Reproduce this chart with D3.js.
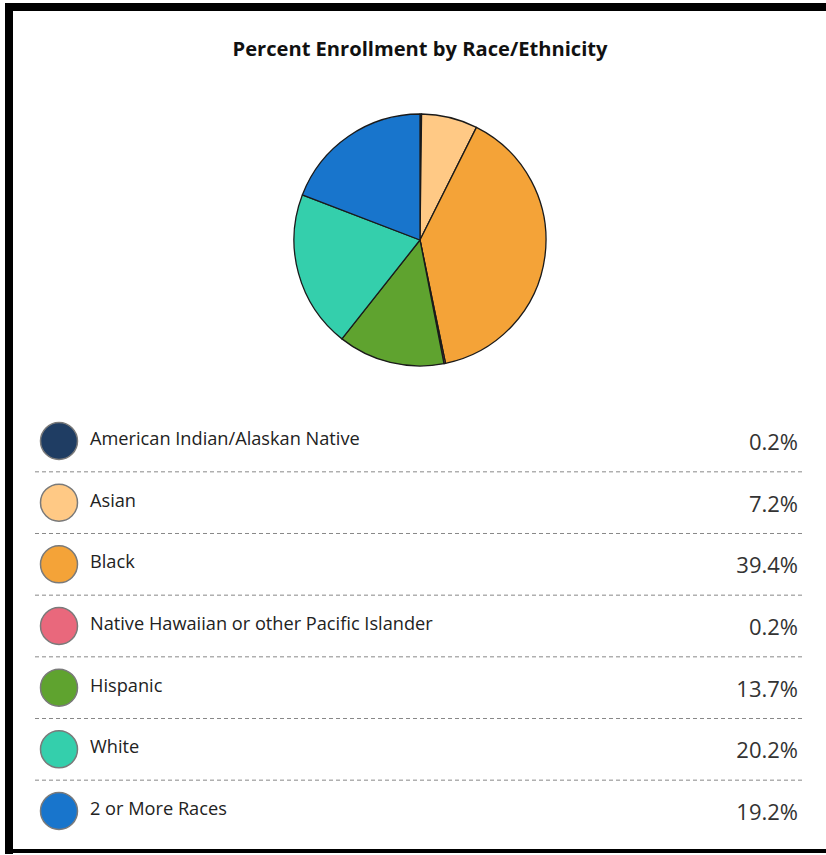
<!DOCTYPE html>
<html><head><meta charset="utf-8">
<script src="https://cdn.jsdelivr.net/npm/d3@7/dist/d3.min.js"></script>
<style>html,body{margin:0;padding:0;background:#fff;}svg{display:block;}</style>
</head><body>
<svg id="chart" width="826" height="855"></svg>
<script>
const categories = ["American Indian/Alaskan Native","Asian","Black","Native Hawaiian or other Pacific Islander","Hispanic","White","2 or More Races"];
const values = [0.2, 7.2, 39.4, 0.2, 13.7, 20.2, 19.2];
const valueLabels = ["0.2%","7.2%","39.4%","0.2%","13.7%","20.2%","19.2%"];
const colors = ["#1f3d63","#ffc985","#f4a338","#e9687c","#5fa32f","#34cfac","#1875cc"];
const title = "Percent Enrollment by Race/Ethnicity";

const svg = d3.select("#chart");
const data = categories.map((c,i)=>({cat:c, value:values[i], label:valueLabels[i], color:colors[i]}));

// frame
svg.append("rect").attr("x",5).attr("y",3).attr("width",830).attr("height",8).attr("fill","#000");
svg.append("rect").attr("x",5).attr("y",3).attr("width",8).attr("height",851).attr("fill","#000");
svg.append("rect").attr("x",5).attr("y",849).attr("width",830).attr("height",4).attr("fill","#000");

// title
svg.append("text").attr("x",420).attr("y",56).attr("text-anchor","middle")
  .attr("font-family","'Open Sans', sans-serif").attr("font-weight","bold").attr("font-size",19)
  .attr("fill","#111").attr("textLength",375).attr("lengthAdjust","spacingAndGlyphs").text(title);

// pie
const cx = 420, cy = 240, R = 126;
const pie = d3.pie().value(d=>d.value).sort(null);
const arc = d3.arc().innerRadius(0).outerRadius(R);
svg.append("g").attr("transform",`translate(${cx},${cy})`)
  .selectAll("path").data(pie(data)).join("path")
  .attr("d",arc).attr("fill",d=>d.data.color)
  .attr("stroke","#1a1a1a").attr("stroke-width",1.3).attr("stroke-linejoin","round");

// legend
const y = d3.scalePoint().domain(categories).range([441, 811]);
const rowGap = (811-441)/6;
const lg = svg.append("g");
const rows = lg.selectAll("g.row").data(data).join("g").attr("class","row")
  .attr("transform",d=>`translate(0,${y(d.cat)})`);
rows.append("circle").attr("cx",59).attr("cy",0).attr("r",18.5)
  .attr("fill",d=>d.color).attr("stroke","#7a7a7a").attr("stroke-width",1.5);
rows.append("text").attr("x",90).attr("y",4)
  .attr("font-family","'Open Sans', sans-serif").attr("font-size",18.2)
  .attr("fill","#222").text(d=>d.cat);
rows.append("text").attr("x",798).attr("y",9).attr("text-anchor","end")
  .attr("font-family","'Open Sans', sans-serif").attr("font-size",22)
  .attr("fill","#333").text(d=>d.label);
rows.filter((d,i)=>i<categories.length-1).append("line")
  .attr("x1",35).attr("x2",805).attr("y1",rowGap/2).attr("y2",rowGap/2)
  .attr("stroke","#888").attr("stroke-width",1).attr("stroke-dasharray","4,3");
</script>
</body></html>
